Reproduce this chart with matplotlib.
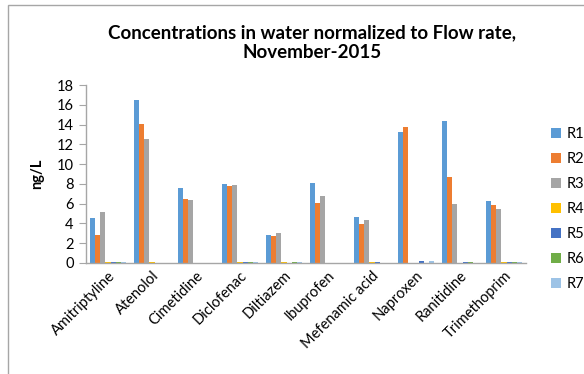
import matplotlib
matplotlib.use("Agg")
import matplotlib.pyplot as plt
import numpy as np
from matplotlib.patches import Rectangle

plt.rcParams['font.family'] = ['Lato', 'DejaVu Sans']

compounds = ["Amitriptyline", "Atenolol", "Cimetidine", "Diclofenac", "Diltiazem",
             "Ibuprofen", "Mefenamic acid", "Naproxen", "Ranitidine", "Trimethoprim"]
series_names = ["R1", "R2", "R3", "R4", "R5", "R6", "R7"]

r1 = [4.57, 16.44, 7.57, 7.97, 2.80, 8.10, 4.63, 13.24, 14.32, 6.28]
r2 = [2.85, 14.05, 6.48, 7.80, 2.74, 6.10, 3.92, 13.78, 8.68, 5.88]
r3 = [5.13, 12.52, 6.38, 7.90, 3.04, 6.76, 4.36, 0.00, 5.98, 5.50]
r4 = [0.10, 0.10, 0.00, 0.10, 0.10, 0.00, 0.10, 0.00, 0.00, 0.10]
r5 = [0.10, 0.00, 0.00, 0.10, 0.00, 0.00, 0.10, 0.17, 0.10, 0.10]
r6 = [0.10, 0.00, 0.00, 0.10, 0.10, 0.00, 0.00, 0.00, 0.10, 0.10]
r7 = [0.10, 0.00, 0.00, 0.10, 0.10, 0.00, 0.00, 0.17, 0.00, 0.10]
series = [r1, r2, r3, r4, r5, r6, r7]

colors = ["#5B9BD5", "#ED7D31", "#A5A5A5", "#FFC000", "#4472C4", "#70AD47", "#9DC3E6"]

fig = plt.figure(figsize=(5.84, 3.74), dpi=100)
ax = fig.add_axes([0.1473, 0.2968, 0.7534, 0.4759])

x = np.arange(len(compounds))
n = len(series)
group_w = 0.82
bar_w = group_w / n
handles = []
for i, (vals, name) in enumerate(zip(series, series_names)):
    offs = -group_w / 2 + bar_w * (i + 0.5)
    b = ax.bar(x + offs, vals, width=bar_w, color=colors[i], label=name, linewidth=0)
    handles.append(b)

ax.set_xlim(-0.5, len(compounds) - 0.5)
ax.set_ylim(0, 18)
ax.set_yticks(np.arange(0, 19, 2))
ax.set_xticks(x)
ax.set_xticklabels(compounds, rotation=45, ha="right", rotation_mode="anchor", fontsize=10.5)
ax.tick_params(axis="x", length=0, pad=4)
ax.tick_params(axis="y", length=5, color="#A6A6A6", labelsize=10.5, pad=4)
for s in ["top", "right"]:
    ax.spines[s].set_visible(False)
for s in ["left", "bottom"]:
    ax.spines[s].set_color("#A6A6A6")
    ax.spines[s].set_linewidth(1.0)

ax.set_ylabel("ng/L", fontsize=10.5, fontweight="bold", labelpad=9)

fig.text(0.535, 0.887, "Concentrations in water normalized to Flow rate,\nNovember-2015",
         ha="center", va="center", fontsize=13.5, fontweight="bold", linespacing=1.2)

leg = fig.legend(handles=handles, labels=series_names, loc="upper left",
                 bbox_to_anchor=(0.933, 0.675), frameon=False, fontsize=10.5,
                 handlelength=0.7, handleheight=0.7, handletextpad=0.4,
                 labelspacing=0.75, borderaxespad=0)

# chart frame
fig.patches.append(Rectangle((8 / 584, -0.05), 1.1, 0.05 + 1 - 5 / 374,
                             transform=fig.transFigure, fill=False,
                             edgecolor="#A6A6A6", linewidth=1.0))

fig.savefig("out.png", dpi=100)
